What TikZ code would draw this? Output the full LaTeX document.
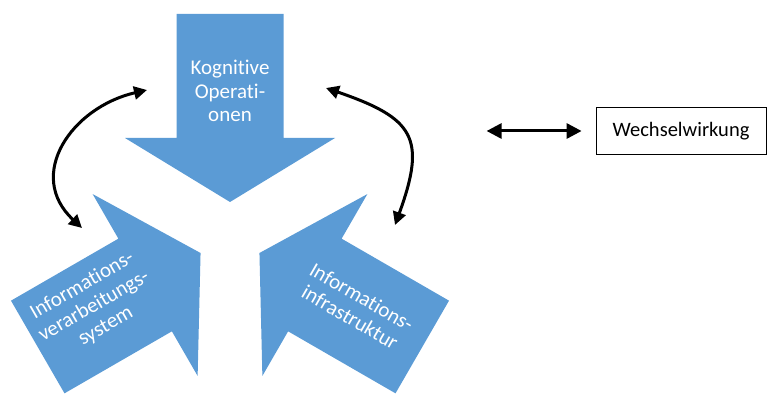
\documentclass[tikz,border=0pt]{standalone}
\usepackage{fontspec}
\setmainfont{Carlito}[Ligatures={NoCommon,NoRare,NoContextual}]
\usepackage{tikz}
\usetikzlibrary{arrows.meta,positioning}
\definecolor{officeblue}{RGB}{91,155,213}

\begin{document}
\begin{tikzpicture}[x=1pt, y=1pt, thick]
        \tikzstyle{bigarrow} = [fill=officeblue, draw=none]
        \tikzstyle{arrowtext} = [text=white, align=center, font=\fontsize{21}{23.5}\selectfont]
        \tikzstyle{line} = [draw, line width=3pt, {Triangle[length=13pt, width=13pt]}-{Triangle[length=13pt, width=13pt]}]

        \useasboundingbox (0,0) rectangle (768,394);
        \coordinate (centre) at (230,158);

        % the three big arrows
        \foreach \ang in {90,210,330}
            \fill [bigarrow, shift={(centre)}, rotate=\ang] (34,0) -- (98,105) -- (98,53.5) -- (222,53.5) -- (222,-53.5) -- (98,-53.5) -- (98,-105) -- cycle;

        \node [arrowtext] (kog) at (230,303) {Kognitive\\Operati-\\onen};
        \node [arrowtext, rotate=30] (ivs) at (94,88) {Informations-\\verarbeitungs-\\system};
        \node [arrowtext, rotate=-30] (iis) at (356,87) {Informations-\\infrastruktur};

        % interactions
        \coordinate (kogl) at (147,304);
        \coordinate (ivsl) at (82,166);
        \coordinate (kogr) at (326,306);
        \coordinate (iisr) at (395,169);
        \draw [line] (ivsl) to[out=137, in=193, looseness=1.3] (kogl);
        \draw [line] (kogr) to[out=341, in=70, looseness=1.55] (iisr);

        % legend
        \node [draw, line width=0.8pt, minimum width=170, minimum height=47, font=\fontsize{20.5}{23}\selectfont] (legend) at (681,263) {Wechselwirkung};
        \coordinate (legb) at ([xshift=-14]legend.west);
        \coordinate (lega) at ([xshift=-109]legend.west);
        \draw [line, {Triangle[length=15pt, width=15pt]}-{Triangle[length=15pt, width=15pt]}] (lega) -- (legb);
\end{tikzpicture}
\end{document}
